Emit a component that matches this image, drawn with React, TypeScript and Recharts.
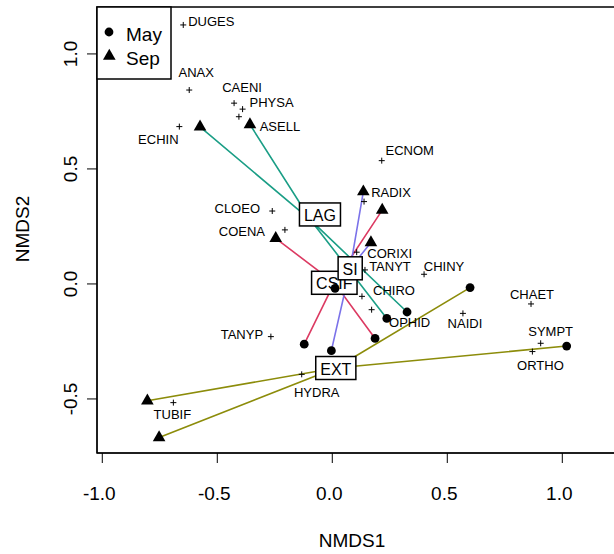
import { ScatterChart, Scatter, XAxis, YAxis, ReferenceArea, Legend } from "recharts"

const FONT = "'Liberation Sans', Arial, Helvetica, sans-serif"

// sites: treatment group, sampling month, NMDS scores
const siteGroup = ["LAG", "LAG", "LAG", "LAG", "CSIF", "CSIF", "CSIF", "CSIF", "SI", "SI", "SI", "SI", "EXT", "EXT", "EXT", "EXT"]
const siteMonth = ["Sep", "Sep", "May", "May", "Sep", "Sep", "May", "May", "Sep", "Sep", "May", "May", "Sep", "Sep", "May", "May"]
const siteX = [-0.575, -0.358, 0.237, 0.325, -0.246, 0.217, -0.122, 0.186, 0.135, 0.168, -0.004, 0.012, -0.804, -0.753, 0.599, 1.019]
const siteY = [0.683, 0.693, -0.15, -0.122, 0.198, 0.321, -0.262, -0.237, 0.401, 0.18, -0.29, -0.019, -0.508, -0.668, -0.016, -0.27]

const groups = ["LAG", "CSIF", "SI", "EXT"]
const groupColors = ["#1B9E86", "#DC3A62", "#7B72E9", "#8C8C0A"]
// nudge of the group label box away from the centroid (px)
const groupLabelShift = [[9, -6], [0, 0], [0, 0], [0, 0]]

const months = ["May", "Sep"]

// species scores
const speciesNames = ["DUGES", "ANAX", "CAENI", "PHYSA", "ASELL", "ECHIN", "ECNOM", "RADIX", "CLOEO", "COENA", "CORIXI", "TANYT", "CHINY", "CHIRO", "OPHID", "NAIDI", "CHAET", "SYMPT", "ORTHO", "HYDRA", "TANYP", "TUBIF"]
const speciesX = [-0.648, -0.622, -0.427, -0.39, -0.406, -0.665, 0.215, 0.138, -0.261, -0.206, 0.106, 0.142, 0.399, 0.129, 0.171, 0.568, 0.864, 0.906, 0.87, -0.133, -0.267, -0.691]
const speciesY = [1.126, 0.843, 0.786, 0.76, 0.727, 0.684, 0.536, 0.358, 0.317, 0.235, 0.138, 0.061, 0.042, -0.054, -0.112, -0.128, -0.087, -0.258, -0.294, -0.393, -0.229, -0.516]
// label placement relative to the "+" (px)
const labelDx = [28, 7, 8, 29, 41, -21, 28, 27, -35, -43, 33, 25, 20, 32, 38, 2, 1, 10, 8, 15, -29, -1]
const labelDy = [-3, -18, -16, -7, 10, 13, -10, -9, -3, 2, 1, -3, -8, -6, 13, 10, -9, -12, 14, 18, -2, 12]

const xTicks = [-1, -0.5, 0, 0.5, 1]
const yTicks = [-0.5, 0, 0.5, 1]
const xDomain = [-1.023, 1.3]
const yDomain = [-0.735, 1.204]

const sites = siteX.map((x, i) => ({ x, y: siteY[i], month: siteMonth[i], group: siteGroup[i] }))
const species = speciesNames.map((name, i) => ({ x: speciesX[i], y: speciesY[i], name, dx: labelDx[i], dy: labelDy[i] }))

const centroids = groups.map((g, gi) => {
  const members = sites.filter((s) => s.group === g)
  const x = members.reduce((a, s) => a + s.x, 0) / members.length
  const y = members.reduce((a, s) => a + s.y, 0) / members.length
  return { x, y, name: g, color: groupColors[gi], shift: groupLabelShift[gi] }
})

// spider: centroid -> site -> centroid -> site ...
const spiders = centroids.map((c) =>
  sites.filter((s) => s.group === c.name).flatMap((s) => [{ x: c.x, y: c.y }, { x: s.x, y: s.y }])
)

let ctx: CanvasRenderingContext2D | null = null
function textWidth(t: string, font: string) {
  if (!ctx) ctx = document.createElement("canvas").getContext("2d")
  if (!ctx) return t.length * 10
  ctx.font = font
  return ctx.measureText(t).width
}

const triPoints = (cx: number, cy: number, r: number) =>
  `${cx},${cy - r} ${cx + r * 0.866},${cy + r / 2} ${cx - r * 0.866},${cy + r / 2}`

const SiteMark = (props: any) => {
  const { cx, cy, payload } = props
  if (payload.month === "May") return <circle cx={cx} cy={cy} r={4.4} fill="#000" />
  return <polygon points={triPoints(cx, cy, 7.3)} fill="#000" />
}

const SpeciesMark = (props: any) => {
  const { cx, cy, payload } = props
  return (
    <g>
      <line x1={cx - 3} x2={cx + 3} y1={cy} y2={cy} stroke="#000" strokeWidth={1} />
      <line x1={cx} x2={cx} y1={cy - 3} y2={cy + 3} stroke="#000" strokeWidth={1} />
      <text x={cx + payload.dx} y={cy + payload.dy} textAnchor="middle" dominantBaseline="central" fontSize={13} fontFamily={FONT} fill="#000">
        {payload.name}
      </text>
    </g>
  )
}

const GroupBox = (props: any) => {
  const { cx, cy, payload } = props
  const x = cx + payload.shift[0]
  const y = cy + payload.shift[1]
  const w = textWidth(payload.name, `16px ${FONT}`) + 9
  const h = 23
  return (
    <g>
      <rect x={x - w / 2} y={y - h / 2} width={w} height={h} fill="#fff" stroke="#000" strokeWidth={1.5} />
      <text x={x} y={y + 1} textAnchor="middle" dominantBaseline="central" fontSize={16} fontFamily={FONT} fill="#000">
        {payload.name}
      </text>
    </g>
  )
}

const XTick = (props: any) => {
  const { x, payload } = props
  return (
    <text x={x - 3} y={500} textAnchor="middle" fontSize={19} fontFamily={FONT} fill="#000">
      {payload.value.toFixed(1)}
    </text>
  )
}

const YTick = (props: any) => {
  const { y, payload } = props
  return (
    <text x={77} y={y} transform={`rotate(-90, 77, ${y})`} textAnchor="middle" fontSize={19} fontFamily={FONT} fill="#000">
      {payload.value.toFixed(1)}
    </text>
  )
}

const LegendBox = () => (
  <svg width={77} height={75} style={{ display: "block" }}>
    <rect x={1} y={1} width={74} height={72} fill="#fff" stroke="#000" strokeWidth={1.5} />
    {months.map((m, i) => (
      <g key={m}>
        {m === "May" ? (
          <circle cx={13} cy={26 + i * 24} r={4.4} fill="#000" />
        ) : (
          <polygon points={triPoints(13.3, 26 + i * 24, 7.3)} fill="#000" />
        )}
        <text x={30} y={35 + i * 24} fontSize={19} fontFamily={FONT} fill="#000">
          {m}
        </text>
      </g>
    ))}
  </svg>
)

const hidden = () => <g />

export default function App() {
  return (
    <div style={{ position: "absolute", left: 0, top: 0, width: 614, height: 554, overflow: "hidden", background: "#fff" }}>
      <ScatterChart width={700} height={554} margin={{ top: 7, right: 68.7, bottom: 0, left: 0 }}>
        <XAxis
          type="number"
          dataKey="x"
          domain={xDomain}
          allowDataOverflow
          ticks={xTicks}
          height={101}
          tickSize={10}
          tick={XTick}
          stroke="#000"
          tickLine={{ stroke: "#000" }}
          label={() => (
            <text x={352} y={547} textAnchor="middle" fontSize={19} fontFamily={FONT} fill="#000">
              NMDS1
            </text>
          )}
        />
        <YAxis
          type="number"
          dataKey="y"
          domain={yDomain}
          allowDataOverflow
          ticks={yTicks}
          width={97}
          tickSize={10}
          tick={YTick}
          stroke="#000"
          tickLine={{ stroke: "#000" }}
          label={() => (
            <text x={29} y={229} transform="rotate(-90, 29, 229)" textAnchor="middle" fontSize={19} fontFamily={FONT} fill="#000">
              NMDS2
            </text>
          )}
        />
        <ReferenceArea
          x1={xDomain[0]}
          x2={xDomain[1]}
          y1={yDomain[0]}
          y2={yDomain[1]}
          fill="none"
          stroke="#000"
          strokeWidth={1.5}
          ifOverflow="visible"
        />
        {spiders.map((d, i) => (
          <Scatter
            key={groups[i]}
            data={d}
            line={{ stroke: groupColors[i], strokeWidth: 1.6 }}
            lineType="joint"
            shape={hidden}
            isAnimationActive={false}
            legendType="none"
          />
        ))}
        <Scatter data={centroids} shape={GroupBox} isAnimationActive={false} legendType="none" />
        <Scatter data={sites} shape={SiteMark} isAnimationActive={false} legendType="none" />
        <Scatter data={species} shape={SpeciesMark} isAnimationActive={false} legendType="none" />
        <Legend
          layout="horizontal"
          verticalAlign="middle"
          align="center"
          wrapperStyle={{ left: 96, top: 6, width: 77, height: 75, lineHeight: 0 }}
          content={LegendBox}
        />
      </ScatterChart>
    </div>
  )
}
